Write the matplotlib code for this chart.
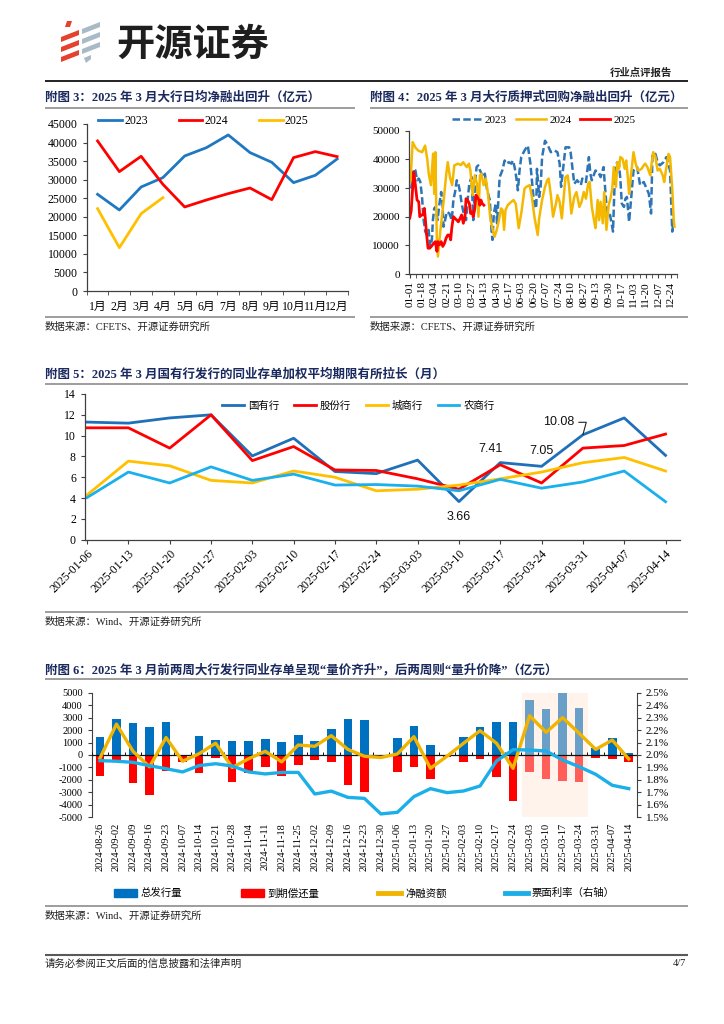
import matplotlib
matplotlib.use('Agg')
import matplotlib.pyplot as plt
from matplotlib.patches import Patch, Polygon
from matplotlib.lines import Line2D
import numpy as np

plt.rcParams['axes.unicode_minus'] = False
SERIF = ['Liberation Serif', 'Noto Sans CJK SC']
CJK = ['Noto Sans CJK SC', 'DejaVu Sans']
SANS = ['Liberation Sans', 'DejaVu Sans']
plt.rcParams['font.family'] = SERIF

TITLE_C = '#1B2A5E'
AX_C = '#404040'

# ---------------- Chart 3 data ----------------
months3 = ['1月', '2月', '3月', '4月', '5月', '6月', '7月', '8月', '9月', '10月', '11月', '12月']
m23 = [26050, 21830, 28030, 30550, 36390, 38630, 42050, 37290, 34680, 29200, 31180, 35580]
m24 = [40430, 32170, 36300, 28750, 22640, 24530, 26240, 27760, 24620, 35940, 37560, 36210]
m25 = [22190, 11680, 20840, 25160]

# ---------------- Chart 4 data (day of year, value) ----------------
tick4 = ['01-01', '01-18', '02-04', '02-21', '03-10', '03-27', '04-13', '04-30', '05-17', '06-03',
         '06-20', '07-07', '07-24', '08-10', '08-27', '09-13', '09-30', '10-17', '11-03', '11-20',
         '12-07', '12-24']
d23 = [2, 5.5, 7.7, 10, 12.3, 14.5, 16.8, 19, 21.3, 23.6, 25.8, 28.1, 30.3, 31.7, 33.5, 35.3, 38, 40.7,
       43, 44.8, 46.2, 48.4, 50.7, 54.3, 57.5, 59.7, 62, 64.3, 66.5, 68.8, 71, 73.3, 77, 78.7, 81.5, 84.6,
       86.9, 89.1, 91.4, 93.7, 95.9, 98.2, 100.4, 102.7, 105.9, 109.5, 111.8, 113.1, 115, 117.6, 119.4,
       121.7, 123, 126.7, 129.8, 132.1, 135.7, 138.9, 141.2, 143.4, 145.7, 147.9, 150.2, 152.5, 157,
       161.5, 165, 170, 173, 174, 177, 179, 181, 185, 189, 193, 198, 202, 205, 207, 209, 213, 218, 220,
       225, 229, 234, 236, 241, 245, 247, 249, 254, 258, 261, 265, 270, 274, 278, 281, 284, 286, 288,
       290, 293, 295, 297, 300, 303, 306, 311, 315, 320, 324, 327, 330, 332, 336, 339, 342, 347, 351,
       356, 359, 361]
v23 = [29800, 36700, 36200, 32700, 33300, 32100, 26900, 18800, 14800, 13600, 15400, 9600, 11900, 18800,
       22900, 23400, 18800, 24600, 28600, 24600, 16500, 18800, 21700, 21100, 18800, 25800, 28600, 32700,
       31500, 28600, 24600, 21700, 18800, 24600, 31500, 33800, 18800, 30400, 37300, 37900, 36200, 35000,
       33800, 35000, 29200, 25800, 15400, 11900, 21100, 24600, 17700, 28100, 33800, 36200, 39600, 38500,
       39000, 38500, 39600, 37300, 33800, 29200, 36200, 40800, 43100, 44800, 38500, 24600, 22900, 36700,
       26900, 30400, 40800, 46500, 44800, 42500, 43100, 42500, 38500, 30400, 35000, 44200, 44200, 42500,
       31500, 32700, 31000, 33300, 32100, 40800, 35000, 32700, 36100, 35500, 33800, 37300, 20600, 20600,
       14800, 37900, 39000, 38500, 33300, 24600, 23400, 26300, 26900, 18200, 26900, 36100, 37300, 31000,
       32100, 29800, 28000, 21100, 41900, 41900, 39000, 37900, 39000, 40800, 36100, 14800, 18800]
d24 = [1, 4, 8, 12, 17, 21, 24, 26, 29, 32, 33.5, 35, 37, 38.5, 42, 46, 50, 52, 55, 58, 61, 66, 70, 73,
       78, 81, 83, 86, 89, 92, 94, 96, 98, 101, 104, 107, 110, 113, 116, 119, 122, 125, 127, 129, 131,
       134, 138, 142, 145, 149, 153, 157, 160, 164, 167, 170.5, 175, 177, 181, 185, 188, 190, 193, 196,
       200, 202, 205, 208, 211, 213, 216, 218, 221, 225, 228, 232, 235, 238, 241, 244, 246, 249, 252,
       254, 257, 259, 261, 264, 266, 269, 272, 275, 277, 279, 282, 284, 286, 288, 291, 294, 296, 298,
       300, 303, 306, 309, 311, 313, 317, 320, 322, 325, 329, 331, 333, 336, 339, 342, 346, 348, 351,
       354, 356, 359, 361, 362]
v24 = [32100, 46000, 44000, 43000, 42500, 44800, 40000, 35000, 31000, 42000, 28000, 42500, 13000, 6100,
       15400, 24600, 35000, 39000, 33800, 31000, 37900, 38500, 38000, 39000, 37300, 38500, 36100, 27500,
       34400, 31500, 20000, 34400, 35000, 31000, 33300, 28000, 20000, 16000, 13000, 15400, 18800, 22900,
       22300, 15400, 22300, 24000, 25000, 25800, 24500, 16000, 22000, 29800, 30500, 31000, 27000, 20000,
       13600, 19400, 25800, 30400, 32700, 33300, 27500, 20000, 24600, 27500, 25200, 19400, 28000, 33800,
       34400, 30400, 21100, 26900, 28600, 23400, 25200, 28600, 26300, 31500, 32100, 23400, 18800, 16000,
       25800, 18800, 25200, 17700, 28600, 15400, 24000, 26900, 29800, 37300, 30400, 39000, 36700, 40800,
       40200, 36700, 39600, 34400, 28000, 35500, 42500, 38500, 36700, 36100, 36700, 37900, 38500, 37300,
       34400, 39000, 42500, 40800, 36100, 36700, 34400, 32100, 37300, 41900, 40800, 29800, 18800, 16500]
d25 = [0, 2, 4, 5.5, 7.7, 10, 12.3, 13.7, 16, 18.2, 20, 21.3, 22.7, 25, 27.3, 29.5, 32.7, 35, 37.2, 38.6,
       40.8, 43, 45.2, 47.5, 49.7, 52, 54.3, 56, 57.5, 59.7, 62, 64.3, 66.5, 68.8, 71, 73.3, 75.6, 77,
       79.2, 81.5, 83.3, 85.6, 86.9, 89.1, 90.5, 92.3, 94.6, 95.9, 97.3, 99.1, 101.4]
v25 = [19500, 22000, 30000, 35600, 31000, 25800, 25200, 20000, 20600, 20600, 22900, 19400, 14800, 9000,
       9000, 9600, 10700, 11300, 7900, 11300, 10200, 11300, 9600, 10700, 12500, 13600, 13600, 11900,
       16000, 20000, 19400, 18800, 18200, 19400, 20600, 17700, 20000, 26300, 25800, 24600, 21100, 21700,
       20000, 22900, 27500, 26900, 25800, 24000, 25800, 24600, 24000]

# ---------------- Chart 5 data ----------------
dates5 = ['2025-01-06', '2025-01-13', '2025-01-20', '2025-01-27', '2025-02-03', '2025-02-10',
          '2025-02-17', '2025-02-24', '2025-03-03', '2025-03-10', '2025-03-17', '2025-03-24',
          '2025-03-31', '2025-04-07', '2025-04-14']
guoyou = [11.3, 11.2, 11.7, 12.0, 8.05, 9.75, 6.55, 6.35, 7.65, 3.66, 7.41, 7.05, 10.08, 11.7, 8.1]
gufen = [10.75, 10.75, 8.8, 12.0, 7.6, 8.95, 6.7, 6.65, 5.85, 4.85, 7.2, 5.45, 8.8, 9.05, 10.15]
chengshang = [4.3, 7.55, 7.1, 5.7, 5.45, 6.6, 6.0, 4.7, 4.85, 5.25, 5.85, 6.5, 7.4, 7.9, 6.6]
nongshang = [4.05, 6.5, 5.45, 7.0, 5.7, 6.3, 5.25, 5.3, 5.15, 4.7, 5.8, 4.95, 5.55, 6.6, 3.65]

# ---------------- Chart 6 data ----------------
dates6 = ['2024-08-26', '2024-09-02', '2024-09-09', '2024-09-16', '2024-09-23', '2024-10-07',
          '2024-10-14', '2024-10-21', '2024-10-28', '2024-11-04', '2024-11-11', '2024-11-18',
          '2024-11-25', '2024-12-02', '2024-12-09', '2024-12-16', '2024-12-23', '2024-12-30',
          '2025-01-06', '2025-01-13', '2025-01-20', '2025-01-27', '2025-02-03', '2025-02-10',
          '2025-02-17', '2025-02-24', '2025-03-03', '2025-03-10', '2025-03-17', '2025-03-24',
          '2025-03-31', '2025-04-07', '2025-04-14']
issue6 = [1420, 2860, 2540, 2250, 2650, 0, 1550, 1180, 1120, 1100, 1260, 1040, 1600, 1100, 2060, 2860,
          2810, 0, 1390, 2300, 800, 0, 1470, 2220, 2650, 2670, 4410, 3660, 5050, 3740, 600, 1390, 190]
mature6 = [-1700, -400, -2250, -3230, -1280, -560, -1470, -210, -2190, -1420, -990, -1660, -830, -400,
           -540, -2430, -2940, -150, -1390, -940, -1950, -130, -590, -320, -1790, -3720, -1340, -1900,
           -2090, -2140, -210, -300, -590]
net6 = [-250, 2480, 300, -950, 1400, -500, 100, 950, -1000, -300, 300, -550, 800, 700, 1550, 450, -100,
        -200, 80, 1470, -1070, -100, 940, 1950, 940, -1070, 3150, 1820, 3000, 1740, 450, 1200, -320]
rate6 = [1.955, 1.95, 1.941, 1.914, 1.89, 1.864, 1.915, 1.93, 1.912, 1.864, 1.848, 1.86, 1.86, 1.687,
         1.71, 1.66, 1.652, 1.527, 1.54, 1.666, 1.73, 1.698, 1.711, 1.751, 1.952, 2.043, 2.04, 2.032,
         1.96, 1.906, 1.845, 1.757, 1.73]
highlight6 = ['2025-03-03', '2025-03-24']

# ---------------- figure ----------------
fig = plt.figure(figsize=(7.24, 10.24), dpi=100)
bg = fig.add_axes([0, 0, 1, 1], zorder=-5)
bg.set_xlim(0, 724)
bg.set_ylim(1024, 0)
bg.axis('off')


def px_axes(l, t, r, b):
    return fig.add_axes([l / 724, 1 - b / 1024, (r - l) / 724, (b - t) / 1024])


def hline(y, x0, x1, color='#8C8C8C', lw=1.2):
    bg.plot([x0, x1], [y, y], color=color, lw=lw, solid_capstyle='butt')


def style(ax):
    for s in ['top', 'right']:
        ax.spines[s].set_visible(False)
    for s in ['left', 'bottom']:
        ax.spines[s].set_color(AX_C)
        ax.spines[s].set_linewidth(0.9)
    ax.tick_params(colors=AX_C, labelcolor='black', direction='out', length=3, width=0.8)


# header / logo
red_c = '#E5412D'
gray_c = '#A9BAC7'
for poly in [[(67, 21), (72, 21), (70, 27), (65, 27)],
             [(61, 37), (79, 30), (79, 35), (61, 42)],
             [(61, 47), (79, 40), (79, 45), (61, 52)],
             [(61, 57), (79, 50), (79, 55), (61, 62)]]:
    bg.add_patch(Polygon(poly, closed=True, color=red_c, lw=0))
for poly in [[(82, 29), (100, 22), (100, 27), (82, 34)],
             [(82, 39), (100, 32), (100, 37), (82, 44)],
             [(82, 49), (100, 42), (100, 47), (82, 54)],
             [(84, 58), (91, 55), (91, 59), (86, 63)]]:
    bg.add_patch(Polygon(poly, closed=True, color=gray_c, lw=0))
bg.text(116, 44, '开源证券', fontsize=27.5, fontweight='bold', color='#1E1E1E', va='center', ha='left',
        family=CJK)
bg.text(672, 73, '行业点评报告', fontsize=7.5, fontweight='bold', color='#222222', va='center', ha='right',
        family=CJK)
hline(81, 45, 688, color='#222222', lw=1.4)

# titles and sources
tkw = dict(fontsize=9, fontweight='bold', color=TITLE_C, va='center', ha='left', family=SERIF)
skw = dict(fontsize=7.5, color='#222222', va='center', ha='left', family=SERIF)
bg.text(45, 97, '附图 3：2025 年 3 月大行日均净融出回升（亿元）', **tkw)
hline(108, 45, 355)
bg.text(370, 97, '附图 4：2025 年 3 月大行质押式回购净融出回升（亿元）', **tkw)
hline(108, 370, 688)
hline(317, 45, 355)
bg.text(45, 327, '数据来源：CFETS、开源证券研究所', **skw)
hline(317, 370, 688)
bg.text(370, 327, '数据来源：CFETS、开源证券研究所', **skw)

bg.text(45, 375, '附图 5：2025 年 3 月国有行发行的同业存单加权平均期限有所拉长（月）', **tkw)
hline(384, 45, 688)
hline(612, 45, 688)
bg.text(45, 622, '数据来源：Wind、开源证券研究所', **skw)

bg.text(45, 670, '附图 6：2025 年 3 月前两周大行发行同业存单呈现“量价齐升”，后两周则“量升价降”（亿元）', **tkw)
hline(679, 45, 688)
hline(906, 45, 688)
bg.text(45, 916, '数据来源：Wind、开源证券研究所', **skw)

hline(955, 45, 688, color='#595959', lw=1.5)
bg.text(45, 964, '请务必参阅正文后面的信息披露和法律声明', fontsize=7.5, color='#222222', va='center',
        family=SERIF)
bg.text(686, 964, '4/7', fontsize=7.5, color='#222222', va='center', ha='right', family=SERIF)

# ---------------- Chart 3 ----------------
ax3 = px_axes(86.7, 124, 348, 291)
style(ax3)
x3 = np.arange(len(months3))
ax3.plot(x3, m23, color='#1F78C1', lw=2, label='2023')
ax3.plot(x3, m24, color='#FF0000', lw=2, label='2024')
ax3.plot(np.arange(len(m25)), m25, color='#FFC000', lw=2, label='2025')
ax3.set_xlim(-0.5, len(months3) - 0.5)
ax3.set_ylim(0, 45000)
ax3.set_yticks(np.arange(0, 45001, 5000))
ax3.set_xticks(x3)
ax3.set_xticklabels(months3)
ax3.set_xticks(np.arange(-0.5, len(months3), 1), minor=True)
ax3.tick_params(axis='x', which='major', length=0, pad=7)
ax3.tick_params(axis='x', which='minor', length=3, color=AX_C)
for lab in ax3.get_xticklabels() + ax3.get_yticklabels():
    lab.set_fontsize(8.5)
ax3.legend(loc='center', bbox_to_anchor=(0.447, 1.02), ncol=3, frameon=False, handlelength=2.0,
           columnspacing=2.6, handletextpad=0.2, prop={'family': SERIF, 'size': 8.5})

# ---------------- Chart 4 ----------------
ax4 = px_axes(409, 130.7, 677, 274)
style(ax4)
ax4.plot(d23, v23, color='#2E75B6', lw=1.8, dashes=(3, 1.3), label='2023')
ax4.plot(d24, v24, color='#F5B800', lw=1.8, label='2024')
ax4.plot(d25, v25, color='#FF0000', lw=2, label='2025')
ax4.set_xlim(-1, 364)
ax4.set_ylim(0, 50000)
ax4.set_yticks(np.arange(0, 50001, 10000))
pos4 = np.arange(len(tick4)) * 17
ax4.set_xticks(pos4)
ax4.set_xticklabels(tick4, rotation=90)
ax4.set_xticks(pos4 + 8.5, minor=True)
ax4.tick_params(axis='x', which='both', length=3, color=AX_C, pad=2)
for lab in ax4.get_xticklabels() + ax4.get_yticklabels():
    lab.set_fontsize(8)
ax4.legend(loc='center', bbox_to_anchor=(0.502, 1.075), ncol=3, frameon=False, handlelength=2.7,
           columnspacing=0.8, handletextpad=0.3, prop={'family': SERIF, 'size': 8})

# ---------------- Chart 5 ----------------
ax5 = px_axes(85, 394, 680, 539.7)
style(ax5)
x5 = np.arange(len(dates5))
ax5.plot(x5, guoyou, color='#1F70B8', lw=2, label='国有行')
ax5.plot(x5, gufen, color='#FF0000', lw=2, label='股份行')
ax5.plot(x5, chengshang, color='#FFC000', lw=2, label='城商行')
ax5.plot(x5, nongshang, color='#1AB0EC', lw=2, label='农商行')
ax5.set_xlim(-0.05, len(dates5) - 0.65)
ax5.set_ylim(0, 14)
ax5.set_yticks(np.arange(0, 15, 2))
ax5.set_xticks(x5)
ax5.set_xticklabels(dates5, rotation=45, ha='right', va='top', rotation_mode='anchor')
ax5.tick_params(axis='x', pad=3)
for lab in ax5.get_xticklabels() + ax5.get_yticklabels():
    lab.set_fontsize(8.5)
ax5.legend(loc='upper left', bbox_to_anchor=(0.215, 1.02), ncol=4, frameon=False, handlelength=2.1,
           columnspacing=1.4, handletextpad=0.4, prop={'family': CJK, 'size': 7.5})
akw = dict(fontsize=9, family=SANS, color='#111111', textcoords='offset points')
i9 = dates5.index('2025-03-10')
ax5.annotate(f'{guoyou[i9]:.2f}', (i9, guoyou[i9]), xytext=(0, -11), ha='center', va='center', **akw)
i10 = dates5.index('2025-03-17')
ax5.annotate(f'{guoyou[i10]:.2f}', (i10, guoyou[i10]), xytext=(-7, 10), ha='center', va='center', **akw)
i11 = dates5.index('2025-03-24')
ax5.annotate(f'{guoyou[i11]:.2f}', (i11, guoyou[i11]), xytext=(0, 11), ha='center', va='center', **akw)
i12 = dates5.index('2025-03-31')
ax5.annotate(f'{guoyou[i12]:.2f}', (i12, guoyou[i12]), xytext=(-6, 9), ha='right', va='center',
             arrowprops=dict(arrowstyle='-', color='#222222', lw=0.8, shrinkA=1, shrinkB=0,
                             connectionstyle='angle,angleA=0,angleB=75,rad=0'), **akw)

# ---------------- Chart 6 ----------------
ax6 = px_axes(91.7, 692.7, 637, 817.3)
for s in ['top', 'bottom']:
    ax6.spines[s].set_visible(False)
ax6.spines['left'].set_color(AX_C)
ax6.spines['right'].set_visible(False)
x6 = np.arange(len(dates6))
ax6.bar(x6, issue6, width=0.52, color='#0070C0', zorder=2, label='总发行量')
ax6.bar(x6, mature6, width=0.52, color='#FF0000', zorder=2, label='到期偿还量')
h0 = dates6.index(highlight6[0])
h1 = dates6.index(highlight6[1])
ax6.axvspan(h0 - 0.45, h1 + 0.53, color=(1.0, 0.89, 0.83), alpha=0.42, lw=0, zorder=2.5)
ax6.axhline(0, color='#111111', lw=0.9, zorder=2.6)
ax6.vlines(np.arange(-0.5, len(dates6), 1), 0, 230, color='#111111', lw=0.7, zorder=2.6)
ax6.plot(x6, net6, color='#F0B400', lw=2.4, zorder=3, label='净融资额')
ax6.set_xlim(-0.5, len(dates6) - 0.5)
ax6.set_ylim(-5000, 5000)
ax6.set_yticks(np.arange(-5000, 5001, 1000))
ax6.set_xticks(x6)
ax6.set_xticklabels(dates6, rotation=90)
ax6.tick_params(axis='x', length=0, pad=4)
ax6.tick_params(axis='y', colors=AX_C, labelcolor='black', direction='out', length=3, width=0.8)
for lab in ax6.get_xticklabels() + ax6.get_yticklabels():
    lab.set_fontsize(7.5)
ax6r = ax6.twinx()
for s in ['top', 'bottom', 'left']:
    ax6r.spines[s].set_visible(False)
ax6r.spines['right'].set_color(AX_C)
ax6r.plot(x6, rate6, color='#1AAFE8', lw=2.4, zorder=3, label='票面利率（右轴）')
ax6r.set_ylim(1.5, 2.5)
ax6r.set_yticks(np.arange(1.5, 2.501, 0.1))
ax6r.set_yticklabels([f'{v:.1f}%' for v in np.arange(1.5, 2.501, 0.1)])
ax6r.tick_params(axis='y', colors=AX_C, labelcolor='black', direction='out', length=3, width=0.8)
for lab in ax6r.get_yticklabels():
    lab.set_fontsize(8)
handles6 = [Patch(color='#0070C0'), Patch(color='#FF0000'),
            Line2D([], [], color='#F0B400', lw=3.5), Line2D([], [], color='#1AAFE8', lw=3.5)]
labels6 = ['总发行量', '到期偿还量', '净融资额', '票面利率（右轴）']
ax6.legend(handles6, labels6, loc='center', bbox_to_anchor=(0.5, -0.61), ncol=4, frameon=False,
           handlelength=2.2, handleheight=0.8, columnspacing=5.6, handletextpad=0.4,
           prop={'family': CJK, 'size': 7.5})

fig.savefig('out.png', dpi=100)
